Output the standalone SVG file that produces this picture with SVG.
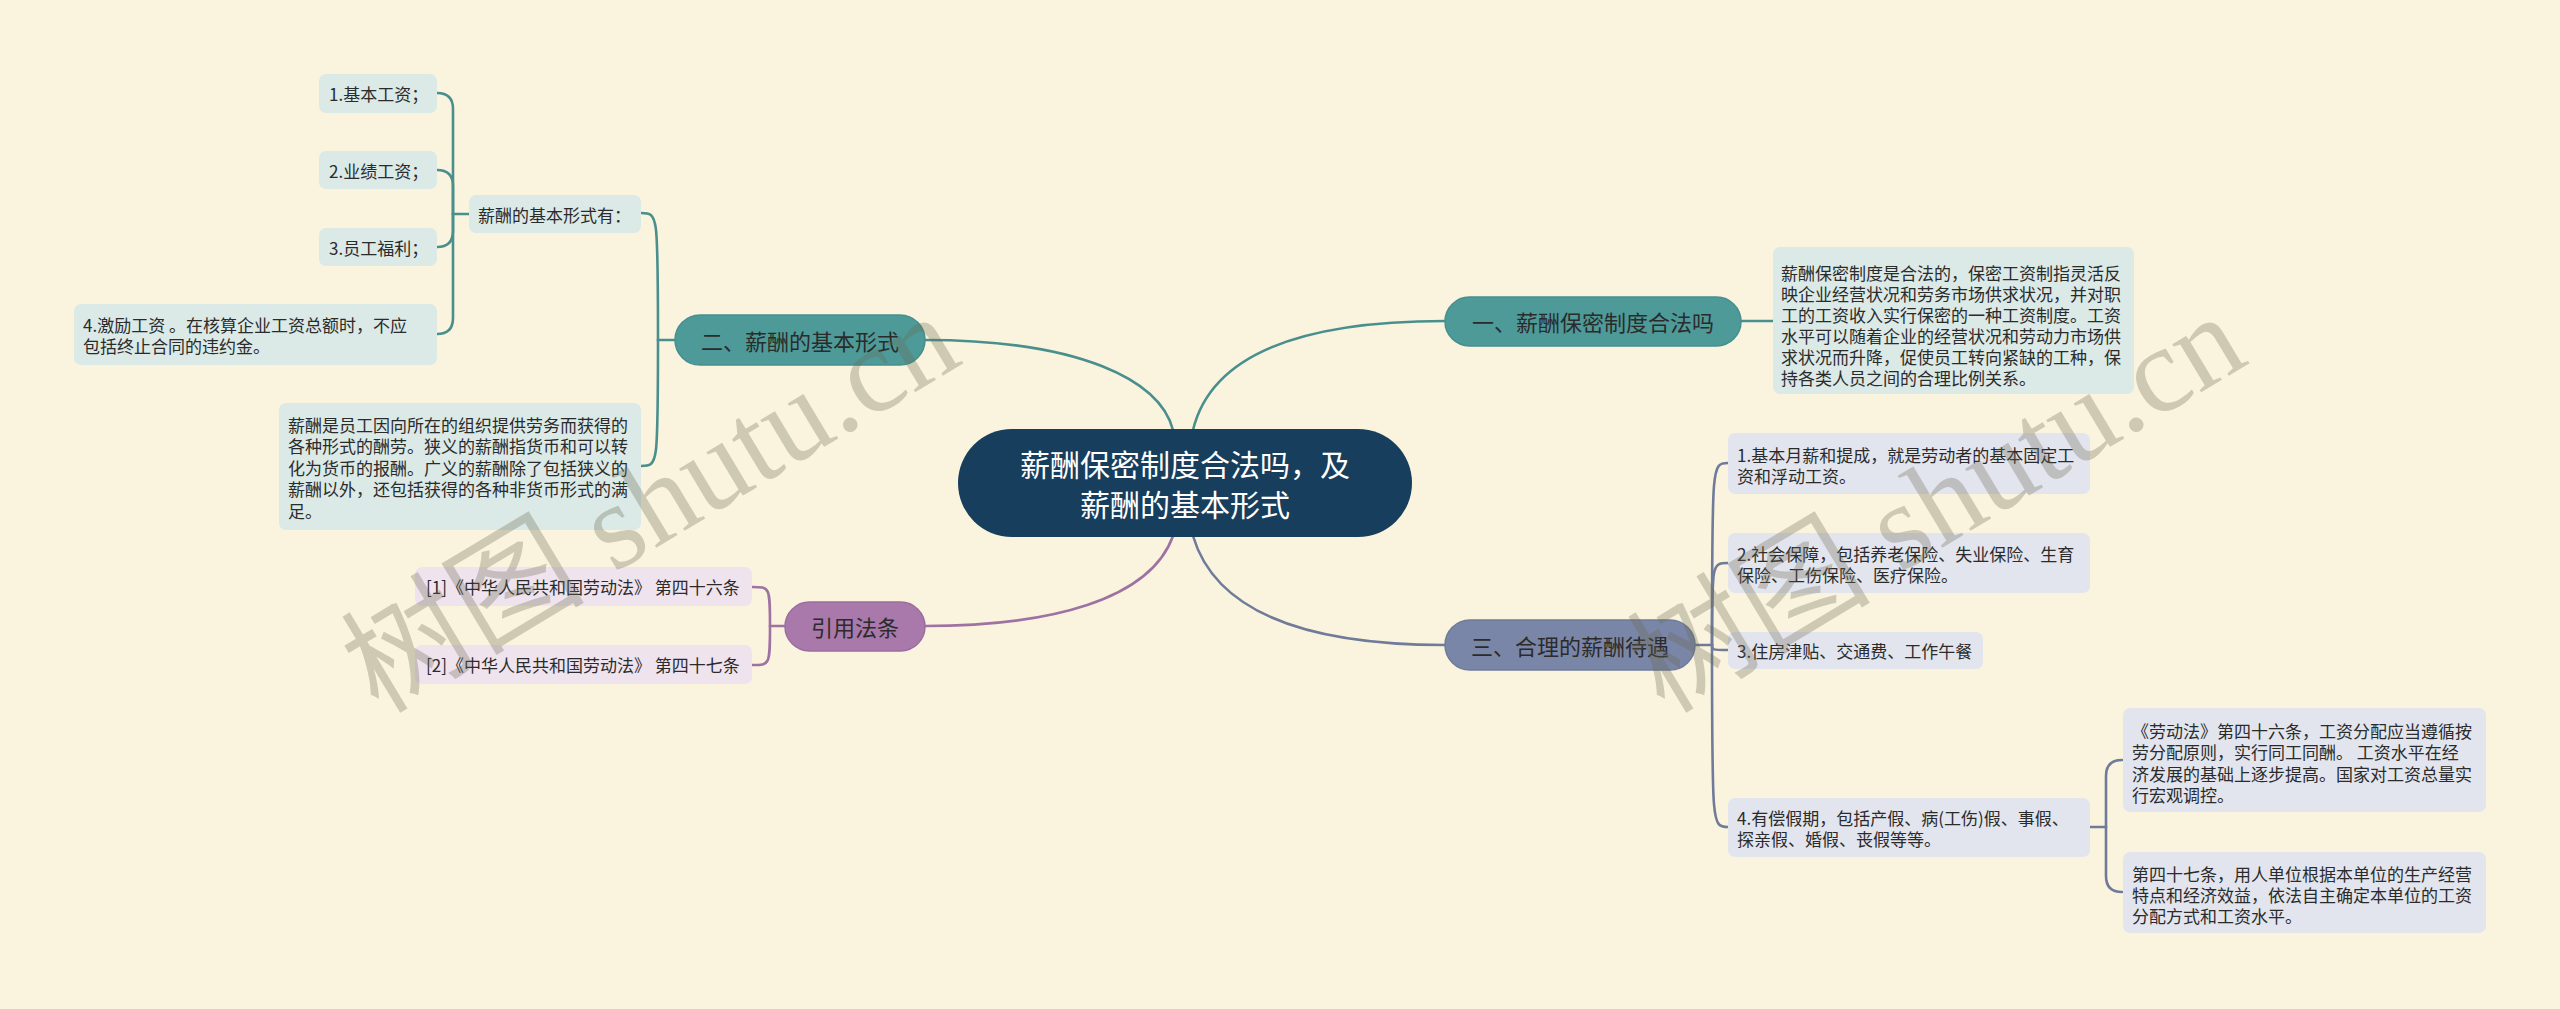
<svg xmlns="http://www.w3.org/2000/svg" width="2560" height="1009" viewBox="0 0 2560 1009">
<defs>
<style>
.t{font-family:"Noto Sans CJK SC","Noto Sans",sans-serif;fill:#2b2b2b;dominant-baseline:central}
.s17{font-size:17px}
.s22{font-size:22px}
.root{font-family:"Noto Sans CJK SC","Noto Sans",sans-serif;font-size:30px;fill:#ffffff;text-anchor:middle;dominant-baseline:central}
.mid{text-anchor:middle}
.bt{fill:#4d9a98;stroke:#45908e;stroke-width:1.5}
.bp{fill:#a879aa;stroke:#9c6e9f;stroke-width:1.5}
.bg{fill:#7a86a7;stroke:#6f7b9b;stroke-width:1.5}
.ct{fill:#dbe9e7}
.cp{fill:#efe3ee}
.cg{fill:#e2e5ee}
.lt{fill:none;stroke:#4a8f8d;stroke-width:2.6;stroke-linecap:round}
.lp{fill:none;stroke:#9f72a2;stroke-width:2.6;stroke-linecap:round}
.lg{fill:none;stroke:#6f7b99;stroke-width:2.6;stroke-linecap:round}
.wm{font-family:"Liberation Serif","Noto Sans CJK SC",serif;font-size:122px;fill:#6b6750;opacity:0.3}
</style>
</defs>
<rect x="0" y="0" width="2560" height="1009" fill="#faf4df"/>

<g id="connectors">
<path class="lt" d="M1173 430 C1160 380 1080 340 925 340"/>
<path class="lt" d="M1193 430 C1210 360 1290 321 1445 321"/>
<path class="lp" d="M1173 536 C1150 600 1050 626 925 626"/>
<path class="lg" d="M1193 536 C1215 610 1300 645 1445 645"/>
<path class="lt" d="M1741 321 H1773"/>
<path class="lt" d="M675 340 H658"/>
<path class="lt" d="M658 340 C658 213 658 213 641 213"/>
<path class="lt" d="M658 340 C658 466 658 466 641 466"/>
<path class="lt" d="M469 214 H453"/>
<path class="lt" d="M453 214 V109 Q453 93 437 93"/>
<path class="lt" d="M453 214 V186 Q453 170 437 170"/>
<path class="lt" d="M453 214 V231 Q453 247 437 247"/>
<path class="lt" d="M453 214 V318 Q453 334 437 334"/>
<path class="lp" d="M785 626 H770"/>
<path class="lp" d="M770 626 C770 587 770 587 752 587"/>
<path class="lp" d="M770 626 C770 665 770 665 752 665"/>
<path class="lg" d="M1695 645 H1712"/>
<path class="lg" d="M1712 645 C1712 463 1712 463 1728 463"/>
<path class="lg" d="M1712 645 C1712 563 1712 563 1728 563"/>
<path class="lg" d="M1712 645 C1712 650 1712 650 1728 650"/>
<path class="lg" d="M1712 645 C1712 827 1712 827 1728 827"/>
<path class="lg" d="M2090 827 H2106"/>
<path class="lg" d="M2106 827 V776 Q2106 760 2122 760"/>
<path class="lg" d="M2106 827 V876 Q2106 892 2122 892"/>
</g>

<g id="root">
<rect x="958" y="429" width="454" height="108" rx="54" fill="#173e5d"/>
<text class="root" x="1185" y="463">薪酬保密制度合法吗，及</text>
<text class="root" x="1185" y="503">薪酬的基本形式</text>
</g>

<g id="b1">
<rect class="bt" x="1445" y="297" width="296" height="49" rx="24.5"/>
<text class="t s22 mid" x="1593" y="321">一、薪酬保密制度合法吗</text>
</g>
<g id="b1-1">
<rect class="ct" x="1773" y="247" width="361" height="147" rx="7"/>
<text class="t s17" x="1781" y="272">薪酬保密制度是合法的，保密工资制指灵活反</text>
<text class="t s17" x="1781" y="293">映企业经营状况和劳务市场供求状况，并对职</text>
<text class="t s17" x="1781" y="314">工的工资收入实行保密的一种工资制度。工资</text>
<text class="t s17" x="1781" y="335">水平可以随着企业的经营状况和劳动力市场供</text>
<text class="t s17" x="1781" y="356">求状况而升降，促使员工转向紧缺的工种，保</text>
<text class="t s17" x="1781" y="377">持各类人员之间的合理比例关系。</text>
</g>

<g id="b2">
<rect class="bt" x="675" y="315" width="250" height="50" rx="25"/>
<text class="t s22 mid" x="800" y="340">二、薪酬的基本形式</text>
</g>
<g id="b2-1">
<rect class="ct" x="469" y="195" width="172" height="38" rx="7"/>
<text class="t s17" x="478" y="214">薪酬的基本形式有：</text>
</g>
<g id="b2-1-1">
<rect class="ct" x="319" y="74" width="118" height="39" rx="7"/>
<text class="t s17" x="329" y="93.5">1.基本工资；</text>
</g>
<g id="b2-1-2">
<rect class="ct" x="319" y="151" width="118" height="38" rx="7"/>
<text class="t s17" x="329" y="170">2.业绩工资；</text>
</g>
<g id="b2-1-3">
<rect class="ct" x="319" y="228" width="118" height="38" rx="7"/>
<text class="t s17" x="329" y="247">3.员工福利；</text>
</g>
<g id="b2-1-4">
<rect class="ct" x="74" y="304" width="363" height="61" rx="7"/>
<text class="t s17" x="83" y="324">4.激励工资 。在核算企业工资总额时，不应</text>
<text class="t s17" x="83" y="345">包括终止合同的违约金。</text>
</g>
<g id="b2-2">
<rect class="ct" x="279" y="403" width="362" height="127" rx="7"/>
<text class="t s17" x="288" y="424">薪酬是员工因向所在的组织提供劳务而获得的</text>
<text class="t s17" x="288" y="445.5">各种形式的酬劳。狭义的薪酬指货币和可以转</text>
<text class="t s17" x="288" y="467">化为货币的报酬。广义的薪酬除了包括狭义的</text>
<text class="t s17" x="288" y="488.5">薪酬以外，还包括获得的各种非货币形式的满</text>
<text class="t s17" x="288" y="510">足。</text>
</g>

<g id="b3">
<rect class="bg" x="1445" y="620" width="250" height="50" rx="25"/>
<text class="t s22 mid" x="1570" y="645">三、合理的薪酬待遇</text>
</g>
<g id="b3-1">
<rect class="cg" x="1728" y="433" width="362" height="61" rx="7"/>
<text class="t s17" x="1737" y="454">1.基本月薪和提成，就是劳动者的基本固定工</text>
<text class="t s17" x="1737" y="475">资和浮动工资。</text>
</g>
<g id="b3-2">
<rect class="cg" x="1728" y="533" width="362" height="60" rx="7"/>
<text class="t s17" x="1737" y="553">2.社会保障，包括养老保险、失业保险、生育</text>
<text class="t s17" x="1737" y="574">保险、工伤保险、医疗保险。</text>
</g>
<g id="b3-3">
<rect class="cg" x="1728" y="632" width="255" height="37" rx="7"/>
<text class="t s17" x="1737" y="650.5">3.住房津贴、交通费、工作午餐</text>
</g>
<g id="b3-4">
<rect class="cg" x="1728" y="798" width="362" height="59" rx="7"/>
<text class="t s17" x="1737" y="817">4.有偿假期，包括产假、病(工伤)假、事假、</text>
<text class="t s17" x="1737" y="838">探亲假、婚假、丧假等等。</text>
</g>
<g id="b3-4-1">
<rect class="cg" x="2123" y="708" width="363" height="104" rx="7"/>
<text class="t s17" x="2132" y="730">《劳动法》第四十六条，工资分配应当遵循按</text>
<text class="t s17" x="2132" y="751.5">劳分配原则，实行同工同酬。 工资水平在经</text>
<text class="t s17" x="2132" y="773">济发展的基础上逐步提高。国家对工资总量实</text>
<text class="t s17" x="2132" y="794.5">行宏观调控。</text>
</g>
<g id="b3-4-2">
<rect class="cg" x="2123" y="852" width="363" height="81" rx="7"/>
<text class="t s17" x="2132" y="873">第四十七条，用人单位根据本单位的生产经营</text>
<text class="t s17" x="2132" y="894">特点和经济效益，依法自主确定本单位的工资</text>
<text class="t s17" x="2132" y="915">分配方式和工资水平。</text>
</g>

<g id="b4">
<rect class="bp" x="785" y="602" width="140" height="49" rx="24.5"/>
<text class="t s22 mid" x="855" y="626">引用法条</text>
</g>
<g id="b4-1">
<rect class="cp" x="415" y="567" width="337" height="39" rx="7"/>
<text class="t s17" x="426" y="586.5">[1]《中华人民共和国劳动法》 第四十六条</text>
</g>
<g id="b4-2">
<rect class="cp" x="415" y="645" width="337" height="39" rx="7"/>
<text class="t s17" x="426" y="664.5">[2]《中华人民共和国劳动法》 第四十七条</text>
</g>

<g id="watermark">
<text class="wm" x="652" y="544" text-anchor="middle" transform="rotate(-31 652 506)">树图 shutu.cn</text>
<text class="wm" x="1938" y="544" text-anchor="middle" transform="rotate(-31 1938 506)">树图 shutu.cn</text>
</g>
</svg>
